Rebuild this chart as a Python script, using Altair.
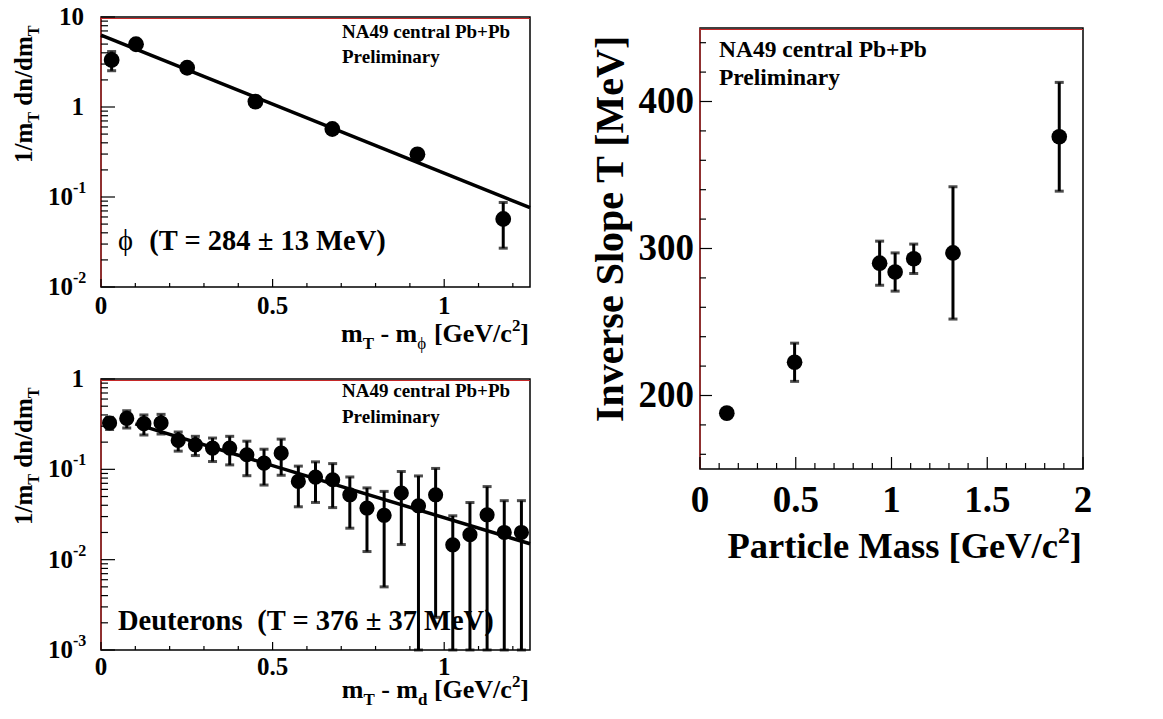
import altair as alt
import pandas as pd

# ---------------- data ----------------
phi_x = [0.031, 0.102, 0.251, 0.450, 0.674, 0.922, 1.172]
phi_y = [3.33, 4.98, 2.73, 1.15, 0.57, 0.298, 0.057]
phi_err = [0.8, 0.3, 0.15, 0.06, 0.03, 0.02, 0.03]
phi_fit_x = [0.0, 1.25]
phi_fit_y = [6.3, 0.076]

d_x = [0.025, 0.075, 0.125, 0.175, 0.225, 0.275, 0.325, 0.375, 0.425, 0.475,
       0.525, 0.575, 0.625, 0.675, 0.725, 0.775, 0.825, 0.875, 0.925, 0.975,
       1.025, 1.075, 1.125, 1.175, 1.225]
d_y = [0.326, 0.366, 0.320, 0.326, 0.209, 0.187, 0.172, 0.172, 0.145, 0.117,
       0.151, 0.0735, 0.082, 0.0767, 0.0523, 0.0373, 0.031, 0.0547, 0.0395, 0.0523,
       0.0146, 0.0189, 0.0314, 0.020, 0.020]
d_err = [0.05, 0.08, 0.08, 0.08, 0.05, 0.045, 0.05, 0.06, 0.06, 0.05,
         0.065, 0.035, 0.039, 0.039, 0.03, 0.025, 0.026, 0.04, 0.045, 0.05,
         0.016, 0.024, 0.033, 0.025, 0.025]
d_fit_x = [0.1, 1.25]
d_fit_y = [0.318, 0.015]

mass = [0.140, 0.494, 0.938, 1.019, 1.116, 1.321, 1.876]
slope_T = [188, 222.6, 290, 284, 293, 297, 376]
slope_err = [3, 13, 15, 13, 10, 45, 37]

FONT = "Liberation Serif"
RED = "#c62828"
PHI = "\u03d5"
_dummy = pd.DataFrame({"k": [0]})

# Times-Bold advance widths (1/1000 em) for text composition
AFM = {' ': 250, '/': 278, '0': 500, '1': 500, '2': 500, '3': 500, '4': 500,
       '5': 500, '6': 500, '7': 500, '8': 500, '9': 500, 'm': 833, 'T': 667, 'd': 556,
       'n': 556, '-': 333, '[': 333, ']': 333, 'G': 778, 'e': 444, 'V': 722, 'c': 444,
       'P': 611, 'a': 500, 'r': 444, 't': 333, 'i': 278, 'l': 278, 'M': 944, 's': 389,
       'I': 389, 'v': 500, 'S': 556, 'o': 500, 'p': 556, 'D': 722, 'u': 556, '(': 333,
       ')': 333, '=': 570, '\u00b1': 570, PHI: 600}


def textw(s):
    return sum(AFM.get(c, 500) for c in s) / 1000.0


def txt(s, x, y, size, align="left", angle=0, weight="bold", baseline="alphabetic"):
    kw = dict(text=s, font=FONT, fontSize=size, fontWeight=weight, align=align,
              baseline=baseline, color="black")
    if angle:
        kw["angle"] = angle
    return alt.Chart(_dummy).mark_text(**kw).encode(x=alt.value(x), y=alt.value(y))


def rich(pieces, x, y, size, angle=0, anchor="left"):
    """Compose text with sub/superscripts; leading spaces are advanced, not drawn."""
    SC = {"n": 1.0, "sub": 0.65, "sup": 0.65}
    SH = {"n": 0.0, "sub": 0.28, "sup": -0.42}
    norm = []
    for p in pieces:
        t, k = p[0], p[1]
        w = p[2] if len(p) > 2 else "bold"
        norm.append((t, k, w))
    widths = [textw(t) * size * SC[k] for t, k, _ in norm]
    pos = -sum(widths) if anchor == "right" else 0.0
    out = []
    for (t, k, wt), w in zip(norm, widths):
        s = t.lstrip(" ")
        lead = textw(t[: len(t) - len(s)]) * size * SC[k]
        perp = SH[k] * size
        a = pos + lead
        if angle == 270:
            px, py = x + perp, y - a
        else:
            px, py = x + a, y + perp
        out.append(txt(s.rstrip(" "), px, py, size * SC[k], angle=angle, weight=wt))
        pos += w
    return out


def build_panel(pts, fit, xdom, ydom, xr, yr, ylog, xticks, yticks, labels, msize, pre_texts):
    xs = alt.Scale(domain=xdom, range=xr, nice=False)
    if ylog:
        ys = alt.Scale(type="log", domain=ydom, range=yr, nice=False)
    else:
        ys = alt.Scale(domain=ydom, range=yr, nice=False)

    def X(f):
        return alt.X(f"{f}:Q", scale=xs, axis=None)

    def Y(f):
        return alt.Y(f"{f}:Q", scale=ys, axis=None)

    def XD(v):
        return alt.XDatum(v, scale=xs, axis=None)

    def YD(v):
        return alt.YDatum(v, scale=ys, axis=None)

    layers = []
    # frame
    layers.append(alt.Chart(_dummy).mark_rect(fillOpacity=0, stroke="black", strokeWidth=1.5).encode(
        x=XD(xdom[0]), x2=alt.X2Datum(xdom[1]), y=YD(ydom[0]), y2=alt.Y2Datum(ydom[1])))
    layers.append(alt.Chart(_dummy).mark_rule(color=RED, strokeWidth=1.2).encode(
        x=XD(xdom[0]), y=YD(ydom[0]), y2=alt.Y2Datum(ydom[1])))
    layers.append(alt.Chart(_dummy).mark_rule(color=RED, strokeWidth=1, yOffset=1.5).encode(
        x=XD(xdom[0]), x2=alt.X2Datum(xdom[1]), y=YD(ydom[1])))
    # ticks (inward, ROOT style)
    for vals, L in yticks:
        df = pd.DataFrame({"v": vals})
        layers.append(alt.Chart(df).mark_rule(color="black", strokeWidth=1.2, x2Offset=L).encode(
            y=Y("v"), x=XD(xdom[0]), x2=alt.X2Datum(xdom[0])))
    for vals, L in xticks:
        df = pd.DataFrame({"v": vals})
        layers.append(alt.Chart(df).mark_rule(color="black", strokeWidth=1.2, y2Offset=-L).encode(
            x=X("v"), y=YD(ydom[0]), y2=alt.Y2Datum(ydom[0])))
    # tick labels
    for lab in labels:
        df = pd.DataFrame({"v": lab["values"], "t": lab["texts"]})
        mk = alt.Chart(df).mark_text(font=FONT, fontWeight="bold", fontSize=lab["size"],
                                     align=lab["align"], baseline=lab["baseline"],
                                     dy=lab.get("dy", 0), color="black")
        if lab["axis"] == "x":
            layers.append(mk.encode(x=X("v"), y=alt.value(lab["pos"]), text="t:N"))
        else:
            layers.append(mk.encode(y=Y("v"), x=alt.value(lab["pos"]), text="t:N"))
    layers.extend(pre_texts)
    # fit line
    layers.append(alt.Chart(fit).mark_line(color="black", strokeWidth=3.5).encode(x=X("fx"), y=Y("fy")))
    # error bars + caps
    layers.append(alt.Chart(pts).mark_rule(color="black", strokeWidth=3).encode(
        x=X("x"), y=Y("lo"), y2=alt.Y2("hi")))
    layers.append(alt.Chart(pts).mark_tick(color="black", orient="horizontal", size=9, thickness=3).encode(
        x=X("x"), y=Y("lo")))
    layers.append(alt.Chart(pts).mark_tick(color="black", orient="horizontal", size=9, thickness=3).encode(
        x=X("x"), y=Y("hi")))
    layers.append(alt.Chart(pts).mark_circle(color="black", opacity=1, size=msize).encode(
        x=X("x"), y=Y("y")))
    return alt.layer(*layers)


# ---------------- tables ----------------
phi_df = pd.DataFrame({"x": phi_x, "y": phi_y, "err": phi_err})
phi_df["lo"] = (phi_df["y"] - phi_df["err"]).clip(lower=0.01)
phi_df["hi"] = phi_df["y"] + phi_df["err"]
phi_fit = pd.DataFrame({"fx": phi_fit_x, "fy": phi_fit_y})

d_df = pd.DataFrame({"x": d_x, "y": d_y, "err": d_err})
d_df["lo"] = (d_df["y"] - d_df["err"]).clip(lower=0.001)
d_df["hi"] = d_df["y"] + d_df["err"]
d_fit = pd.DataFrame({"fx": d_fit_x, "fy": d_fit_y})

T_df = pd.DataFrame({"x": mass, "y": slope_T, "err": slope_err})
T_df["lo"] = T_df["y"] - T_df["err"]
T_df["hi"] = T_df["y"] + T_df["err"]
T_fit = pd.DataFrame({"fx": [mass[0]], "fy": [slope_T[0]]})

left_x_major = [0, 0.5, 1]
left_x_minor = [0.1, 0.2, 0.3, 0.4, 0.6, 0.7, 0.8, 0.9, 1.1, 1.2]
left_x_labels = ["0", "0.5", "1"]


def log_minor(decades):
    return [m * d for d in decades for m in range(2, 10)]


# ---------------- top-left: phi ----------------
tl_texts = [
    txt("NA49 central Pb+Pb", 342, 38, 19),
    txt("Preliminary", 342, 63, 19),
] + rich([(PHI, "n", "normal"), ("  (T = 284 \u00b1 13 MeV)", "n")], 118, 250, 28.5)
tl = build_panel(
    phi_df, phi_fit, [0, 1.25], [0.01, 10], [101, 530], [287, 17], True,
    xticks=[(left_x_major, 8), (left_x_minor, 4)],
    yticks=[([0.01, 0.1, 1, 10], 14), (log_minor([0.01, 0.1, 1]), 7)],
    labels=[
        dict(axis="x", values=left_x_major, texts=left_x_labels, pos=314, size=25, align="center", baseline="alphabetic"),
        dict(axis="y", values=[10, 1], texts=["10", "1"], pos=84, size=25, align="right", baseline="middle"),
        dict(axis="y", values=[0.1, 0.01], texts=["10", "10"], pos=73, size=25, align="right", baseline="middle"),
        dict(axis="y", values=[0.1, 0.01], texts=["-1", "-2"], pos=73, size=16, align="left", baseline="middle", dy=-9),
    ],
    msize=250, pre_texts=tl_texts)

# ---------------- bottom-left: deuterons ----------------
bl_texts = [
    txt("NA49 central Pb+Pb", 342, 397, 19),
    txt("Preliminary", 342, 423, 19),
] + rich([("Deuterons", "n"), ("  (T = 376 \u00b1 37 MeV)", "n")], 118, 630, 28.5)
bl = build_panel(
    d_df, d_fit, [0, 1.25], [0.001, 1], [101, 530], [650, 379], True,
    xticks=[(left_x_major, 8), (left_x_minor, 4)],
    yticks=[([0.001, 0.01, 0.1, 1], 14), (log_minor([0.001, 0.01, 0.1]), 7)],
    labels=[
        dict(axis="x", values=left_x_major, texts=left_x_labels, pos=675, size=25, align="center", baseline="alphabetic"),
        dict(axis="y", values=[1], texts=["1"], pos=84, size=25, align="right", baseline="middle"),
        dict(axis="y", values=[0.1, 0.01, 0.001], texts=["10", "10", "10"], pos=73, size=25, align="right", baseline="middle"),
        dict(axis="y", values=[0.1, 0.01, 0.001], texts=["-1", "-2", "-3"], pos=73, size=16, align="left", baseline="middle", dy=-9),
    ],
    msize=230, pre_texts=bl_texts)

# ---------------- right: inverse slope vs mass ----------------
r_x_major = [0, 0.5, 1, 1.5, 2]
r_x_minor = [0.1, 0.2, 0.3, 0.4, 0.6, 0.7, 0.8, 0.9, 1.1, 1.2, 1.3, 1.4, 1.6, 1.7, 1.8, 1.9]
r_y_major = [200, 300, 400]
r_y_minor = [160, 180, 220, 240, 260, 280, 320, 340, 360, 380, 420, 440]
rp_texts = [
    txt("NA49 central Pb+Pb", 719, 57, 23.5),
    txt("Preliminary", 719, 85, 23.5),
]
rp = build_panel(
    T_df, T_fit, [0, 2], [150, 450], [700, 1083], [469, 28], False,
    xticks=[(r_x_major, 12), (r_x_minor, 6)],
    yticks=[(r_y_major, 12), (r_y_minor, 6)],
    labels=[
        dict(axis="x", values=r_x_major, texts=["0", "0.5", "1", "1.5", "2"], pos=512, size=37, align="center", baseline="alphabetic"),
        dict(axis="y", values=r_y_major, texts=["200", "300", "400"], pos=694, size=37, align="right", baseline="middle"),
    ],
    msize=245, pre_texts=rp_texts)

# ---------------- axis titles (composed for sub/superscripts) ----------------
titles = []
titles += rich([("m", "n"), ("T", "sub"), (" - m", "n"), (PHI, "sub", "normal"), (" [GeV/c", "n"), ("2", "sup"), ("]", "n")],
               529, 342, 26, anchor="right")
titles += rich([("m", "n"), ("T", "sub"), (" - m", "n"), ("d", "sub"), (" [GeV/c", "n"), ("2", "sup"), ("]", "n")],
               529, 698, 26, anchor="right")
titles += rich([("1/m", "n"), ("T", "sub"), (" dn/dm", "n"), ("T", "sub")], 32, 163, 25, angle=270)
titles += rich([("1/m", "n"), ("T", "sub"), (" dn/dm", "n"), ("T", "sub")], 32, 525, 25, angle=270)
titles += rich([("Inverse Slope T [MeV]", "n")], 623, 422, 40, angle=270)
titles += rich([("Particle Mass [GeV/c", "n"), ("2", "sup"), ("]", "n")], 1082, 558, 36.5, anchor="right")

chart = alt.layer(tl, bl, rp, *titles).resolve_scale(
    x="independent", y="independent"
).properties(
    width=1163, height=719, padding=0, autosize=alt.AutoSizeParams(type="none"),
    background="white"
).configure_view(stroke=None)

chart.save("out.html", embed_options={"renderer": "svg", "actions": False})
